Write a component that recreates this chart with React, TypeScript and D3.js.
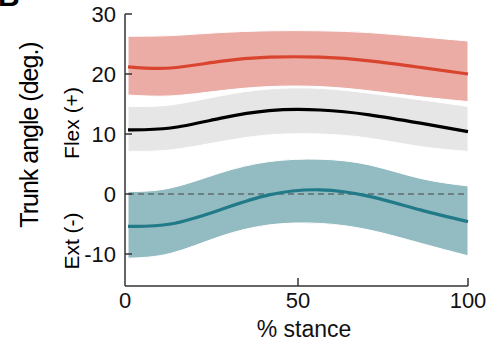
import React from "react";
import * as d3 from "d3";

const pct = [0, 12.5, 27, 41.5, 56.5, 71, 86, 100];

const flexMean = [21.2, 21.0, 22.1, 22.8, 22.8, 22.2, 21.1, 20.0];
const flexUpper = [26.3, 26.4, 26.9, 27.2, 27.2, 26.9, 26.2, 25.5];
const flexLower = [16.5, 16.35, 17.2, 17.9, 17.9, 17.2, 16.2, 15.4];

const midMean = [10.7, 11.0, 12.6, 13.9, 14.0, 13.2, 11.8, 10.4];
const midUpper = [14.6, 14.85, 16.35, 17.5, 17.6, 16.8, 15.7, 14.6];
const midLower = [7.1, 7.35, 8.7, 9.85, 10.0, 9.3, 7.9, 7.1];

const extMean = [-5.4, -5.0, -2.65, -0.15, 0.7, -0.4, -2.65, -4.6];
const extUpper = [0.4, 1.0, 3.5, 5.4, 5.8, 4.85, 2.6, 1.35];
const extLower = [-10.7, -9.9, -7.1, -5.15, -4.9, -6.0, -8.2, -10.3];

const yTicks = [30, 20, 10, 0, -10];
const xTicks = [0, 50, 100];

const W = 493;
const H = 346;

export default function App() {
  const x = d3.scaleLinear().domain([0, 100]).range([128, 468]);
  const y = d3.scaleLinear().domain([0, 30]).range([194, 14]);
  const spineX = 125;
  const spineY = 286;

  const series = [
    { mean: flexMean, up: flexUpper, lo: flexLower, band: "#ebaca5", line: "#d9442f" },
    { mean: midMean, up: midUpper, lo: midLower, band: "#e6e6e6", line: "#000000" },
    { mean: extMean, up: extUpper, lo: extLower, band: "#92bbc2", line: "#207a87" },
  ];

  const area = (up: number[], lo: number[]) =>
    d3
      .area<number>()
      .x((i) => x(pct[i]))
      .y0((i) => y(lo[i]))
      .y1((i) => y(up[i]))
      .curve(d3.curveNatural)(pct.map((_, i) => i)) || "";
  const line = (m: number[]) =>
    d3
      .line<number>()
      .x((i) => x(pct[i]))
      .y((i) => y(m[i]))
      .curve(d3.curveNatural)(pct.map((_, i) => i)) || "";

  const font = "'Liberation Sans', Arial, sans-serif";
  const axisColor = "#333333";

  return (
    <svg
      width={W}
      height={H}
      style={{ position: "absolute", left: 0, top: 0, background: "#fff" }}
      fontFamily={font}
    >
      <text x={-2} y={6} fontSize={30} fontWeight="bold" fill="#000">B</text>
      {series.map((s, k) => (
        <path key={"b" + k} d={area(s.up, s.lo)} fill={s.band} stroke="#fff" strokeWidth={1} />
      ))}
      <line
        x1={x(0)}
        x2={x(100)}
        y1={y(0)}
        y2={y(0)}
        stroke="#444"
        strokeWidth={1}
        strokeDasharray="6,4"
      />
      {series.map((s, k) => (
        <path key={"l" + k} d={line(s.mean)} fill="none" stroke={s.line} strokeWidth={3.2} />
      ))}
      {/* axes */}
      <line x1={spineX} x2={spineX} y1={y(30)} y2={spineY} stroke={axisColor} strokeWidth={1.5} />
      <line x1={spineX} x2={x(100)} y1={spineY} y2={spineY} stroke={axisColor} strokeWidth={1.5} />
      {yTicks.map((t) => (
        <g key={"yt" + t}>
          <line x1={spineX} x2={spineX + 7} y1={y(t)} y2={y(t)} stroke={axisColor} strokeWidth={1.5} />
          <text x={spineX - 9} y={y(t)} dy="0.36em" textAnchor="end" fontSize={22} fill="#111">
            {t}
          </text>
        </g>
      ))}
      {xTicks.map((t) => (
        <g key={"xt" + t}>
          {t !== 0 && (
            <line x1={x(t)} x2={x(t)} y1={spineY} y2={spineY - 8} stroke={axisColor} strokeWidth={1.5} />
          )}
          <text x={t === 0 ? spineX : x(t)} y={308} textAnchor="middle" fontSize={22} fill="#111">
            {t}
          </text>
        </g>
      ))}
      <text x={304} y={337} textAnchor="middle" fontSize={23} fill="#111">
        % stance
      </text>
      <text
        transform={`translate(38,135) rotate(-90)`}
        textAnchor="middle"
        fontSize={25}
        letterSpacing={-1}
        fill="#000"
      >
        Trunk angle (deg.)
      </text>
      <text transform={`translate(79,123) rotate(-90)`} textAnchor="middle" fontSize={21} fill="#000">
        Flex (+)
      </text>
      <text transform={`translate(79,241) rotate(-90)`} textAnchor="middle" fontSize={21} fill="#000">
        Ext (-)
      </text>
    </svg>
  );
}
